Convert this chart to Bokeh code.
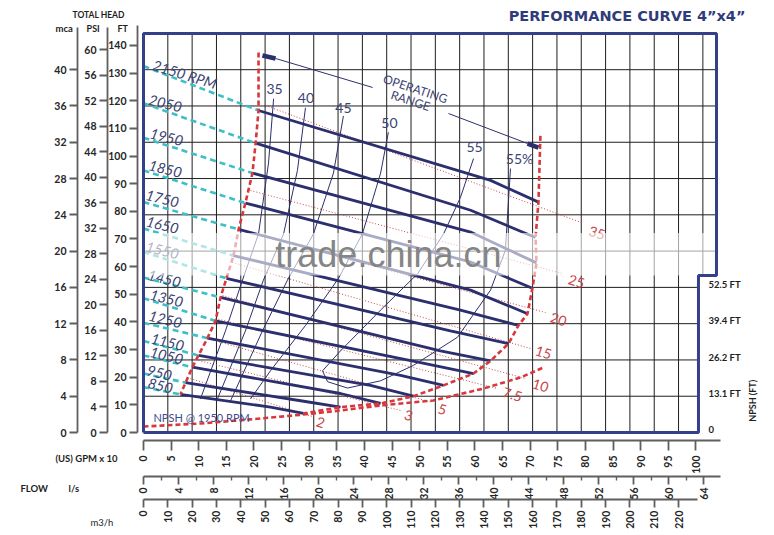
import math
from bokeh.plotting import figure
from bokeh.models import Range1d, LinearAxis, FixedTicker
from bokeh.core.properties import value
from bokeh.embed import file_html
from bokeh.resources import INLINE

# ---------------- data (flow in m3/h, head in m / mca) ----------------
rpm_labels = ["2150 RPM", "2050", "1950", "1850", "1750", "1650", "1550",
              "1450", "1350", "1250", "1150", "1050", "950", "850"]
rpm_label_q = [16.9, 9.0, 9.5, 9.0, 7.8, 7.8, 7.8, 8.6, 9.5, 9.0, 9.9, 9.5, 6.6, 7.0]
rpm_label_h = [39.5, 36.3, 32.6, 29.1, 25.8, 22.9, 20.1, 17.0, 14.8, 12.5, 10.0, 8.5, 6.6, 5.2]
shutoff_head = [40.4, 36.3, 32.5, 28.9, 25.4, 22.5, 19.9, 17.1, 14.8, 12.1, 10.1, 8.5, 6.5, 5.0]
speed_q = [[47.3, 142.7, 162.4], [46.1, 134.5, 161.2], [44.8, 134.5, 161.6],
           [41.9, 134.5, 159.9], [39.1, 134.5, 157.9], [37.0, 130.3, 154.2],
           [34.1, 126.2, 150.1], [31.7, 122.1, 142.7], [29.6, 113.9, 135.7],
           [26.3, 105.7, 123.4], [22.6, 93.3, 111.0], [20.1, 81.0, 97.5],
           [17.3, 64.6, 81.0], [15.2, 52.2, 65.8]]
speed_h = [[35.5, 27.8, 25.4], [31.9, 24.5, 21.5], [28.6, 22.1, 18.7],
           [25.3, 18.8, 15.9], [22.4, 15.7, 13.1], [19.5, 13.5, 11.8],
           [17.0, 11.2, 9.8], [14.9, 9.0, 7.9], [12.3, 7.7, 6.5],
           [10.4, 6.3, 5.2], [8.5, 5.2, 4.0], [7.2, 4.3, 3.2],
           [5.5, 3.5, 2.8], [4.2, 2.8, 2.1]]
range_top_left = [47.3, 41.9]
range_top_right = [163.2, 32.7]

eff_labels = ["35", "40", "45", "50", "55", "55%"]
eff_label_q = [53.9, 66.8, 82.2, 101.1, 136.1, 154.6]
eff_label_h = [37.9, 36.9, 35.8, 34.1, 31.5, 30.2]
eff_q = [[53.5, 51.4, 47.3, 40.7, 33.7, 23.4],
         [66.6, 63.3, 57.6, 49.3, 41.9, 30.4],
         [82.2, 78.1, 69.9, 59.2, 48.9, 35.8],
         [100.7, 97.5, 90.0, 80.2, 66.6, 52.2, 44.0],
         [135.7, 130.3, 123.4, 112.7, 97.5, 81.0, 73.6, 75.7, 83.9, 97.5, 111.0,
          129.1, 142.7, 148.8, 150.9]]
eff_h = [[36.8, 29.7, 21.9, 16.8, 11.2, 3.7],
         [35.8, 28.9, 21.9, 16.8, 11.2, 3.7],
         [34.9, 28.6, 21.9, 16.8, 11.2, 3.5],
         [33.1, 28.6, 21.9, 17.0, 11.8, 6.8, 3.7],
         [30.2, 25.9, 21.9, 17.5, 13.5, 9.0, 6.8, 5.6, 4.9, 5.7, 7.4, 10.5, 15.7,
          20.1, 29.1]]

hp_labels = ["2", "3", "5", "7.5", "10", "15", "20", "25", "35"]
hp_q0 = [19.3, 22.6, 26.3, 29.6, 32.5, 36.6, 39.9, 44.0, 50.2]
hp_h0 = [5.95, 7.94, 10.36, 12.57, 15.10, 18.74, 22.27, 26.68, 36.05]
hp_q1 = [69.5, 105.7, 118.8, 145.6, 157.1, 159.1, 165.3, 172.3, 180.5]
hp_h1 = [1.76, 2.43, 3.31, 4.85, 5.95, 9.26, 13.23, 17.53, 23.1]
hp_label_q = [72.8, 109.0, 122.9, 151.7, 163.2, 164.5, 170.6, 178.0, 186.5]
hp_label_h = [1.10, 1.87, 2.54, 4.19, 5.18, 8.82, 12.46, 16.65, 22.0]

npsh_q = [0, 23.4, 48.1, 65.8, 81.0, 97.5, 119.2, 139.8, 155.0, 164.5]
npsh_h = [0.66, 0.99, 1.54, 1.98, 2.43, 2.98, 3.53, 4.85, 6.06, 7.17]

op_thin_q = [[54.3, 94.2], [125.4, 157.9]]
op_thin_h = [[41.24, 38.04], [35.17, 31.86]]
op_thick_q = [[48.9, 54.3], [157.9, 162.4]]
op_thick_h = [[41.57, 41.24], [31.86, 31.42]]

ft_ticks = list(range(0, 141, 10))
psi_ticks = list(range(0, 61, 4))
mca_ticks = list(range(0, 41, 4))
gpm_ticks = list(range(0, 101, 5))
ls_ticks = list(range(0, 65, 4))
ls_minor = list(range(2, 63, 4))
m3h_ticks = list(range(0, 221, 10))
npsh_ticks = [0, 4, 8, 12, 16]
npsh_tick_labels = ["0", "13.1 FT", "26.2 FT", "39.4 FT", "52.5 FT"]

grid_q = list(range(10, 231, 10))
grid_h = list(range(4, 41, 4))
box_q_max = 235.6
npsh_box_q = 228.2
box_h_max = 44.0
step_h = 17.3

FT_PER_M = 3.28084
PSI_PER_M = 1.42233
GPM10_PER_M3H = 0.440287
LS_PER_M3H = 1 / 3.6

# ---------------- figure: frame covers the whole canvas ----------------
W, H = 772, 533
X0, X1 = -143 / 2.432, (W - 143) / 2.432
Y0, Y1 = (432 - H) / 9.07, 432 / 9.07
AXIS_TOP = 44.87

NAVY = "#2c2f6e"
FRAME = "#35408a"
RED = "#d8373c"
CYAN = "#3dbfc6"
HPRED = "#c9474b"
LBL = "#3b4373"

p = figure(width=W, height=H, x_range=Range1d(X0, X1), y_range=Range1d(Y0, Y1),
           x_axis_location=None, y_axis_location=None, toolbar_location=None,
           output_backend="svg", min_border=0)
p.outline_line_color = None
p.grid.visible = False
p.background_fill_color = "white"
p.border_fill_color = "white"

p.extra_y_ranges = {"ft": Range1d(Y0 * FT_PER_M, Y1 * FT_PER_M),
                    "psi": Range1d(Y0 * PSI_PER_M, Y1 * PSI_PER_M)}
p.extra_x_ranges = {"gpm": Range1d(X0 * GPM10_PER_M3H, X1 * GPM10_PER_M3H),
                    "ls": Range1d(X0 * LS_PER_M3H, X1 * LS_PER_M3H)}


def style_axis(ax, tick_out, standoff, size):
    ax.axis_line_color = "#5f5f5f"
    ax.axis_line_width = 1.8
    ax.major_tick_line_color = "#5f5f5f"
    ax.major_tick_line_width = 1.8
    ax.major_tick_out = tick_out
    ax.major_tick_in = 0
    ax.minor_tick_line_color = None
    ax.major_label_standoff = standoff
    ax.major_label_text_font = "Lato"
    ax.major_label_text_font_style = "bold"
    ax.major_label_text_font_size = size
    ax.major_label_text_color = "#262626"


# left axes (fixed at their own x positions)
ft_axis = LinearAxis(y_range_name="ft", ticker=FixedTicker(ticks=ft_ticks),
                     bounds=(0, AXIS_TOP * FT_PER_M), fixed_location=-2.47)
psi_axis = LinearAxis(y_range_name="psi", ticker=FixedTicker(ticks=psi_ticks),
                      bounds=(0, 44.6 * PSI_PER_M), fixed_location=-14.8)
mca_axis = LinearAxis(ticker=FixedTicker(ticks=mca_ticks), bounds=(0, 44.6),
                      fixed_location=-27.14)
for ax in (ft_axis, psi_axis, mca_axis):
    style_axis(ax, 8, 3, "10.5px")
    p.add_layout(ax, "left")

# bottom axes
gpm_axis = LinearAxis(x_range_name="gpm", ticker=FixedTicker(ticks=gpm_ticks),
                      bounds=(0, 104.46), fixed_location=-0.88)
style_axis(gpm_axis, 10, 5, "10.5px")
ls_axis = LinearAxis(x_range_name="ls", ticker=FixedTicker(ticks=ls_ticks, minor_ticks=ls_minor),
                     bounds=(0, 65.9), fixed_location=-4.85)
style_axis(ls_axis, 8, 3, "10.5px")
ls_axis.minor_tick_line_color = "#5f5f5f"
ls_axis.minor_tick_line_width = 1.4
ls_axis.minor_tick_out = 4
ls_axis.minor_tick_in = 0
m3h_axis = LinearAxis(ticker=FixedTicker(ticks=m3h_ticks), bounds=(0, 228.0),
                      fixed_location=-7.39)
style_axis(m3h_axis, 8, 3, "10.5px")
for ax in (gpm_axis, ls_axis, m3h_axis):
    ax.major_label_orientation = math.pi / 2
    p.add_layout(ax, "below")

# ---------------- grid ----------------
v_y0 = [step_h if q > npsh_box_q else 0 for q in grid_q]
p.segment(x0=grid_q, y0=v_y0, x1=grid_q, y1=[box_h_max] * len(grid_q),
          line_color="#1e1e1e", line_width=1)
h_x1 = [npsh_box_q if h < step_h else box_q_max for h in grid_h]
p.segment(x0=[0] * len(grid_h), y0=grid_h, x1=h_x1, y1=grid_h,
          line_color="#1e1e1e", line_width=1)

# ---------------- power lines ----------------
p.segment(x0=hp_q0, y0=hp_h0, x1=hp_q1, y1=hp_h1, line_color=HPRED,
          line_width=1, line_dash="1 2")
p.text(x=hp_label_q, y=hp_label_h, text=hp_labels, text_color=HPRED,
       text_font=value("Lato"), text_font_size="14px", angle=-0.3,
       text_align="center", text_baseline="middle")

# ---------------- efficiency curves ----------------
p.multi_line(xs=eff_q, ys=eff_h, line_color=NAVY, line_width=1)
p.text(x=eff_label_q, y=eff_label_h, text=eff_labels, text_color=LBL,
       text_font=value("Lato"), text_font_size="14px",
       text_align="center", text_baseline="middle")

# ---------------- speed curves ----------------
start_q = [q[0] for q in speed_q]
start_h = [h[0] for h in speed_h]
p.segment(x0=[0] * len(shutoff_head), y0=shutoff_head, x1=start_q, y1=start_h,
          line_color=CYAN, line_width=2.6, line_dash="6 4")
p.multi_line(xs=speed_q, ys=speed_h, line_color=NAVY, line_width=2.8)

# operating range boundaries and NPSH curve
left_q = [range_top_left[0]] + start_q
left_h = [range_top_left[1]] + start_h
right_q = [range_top_right[0]] + [q[-1] for q in speed_q]
right_h = [range_top_right[1]] + [h[-1] for h in speed_h]
p.line(left_q, left_h, line_color=RED, line_width=2.6, line_dash="5 3")
p.line(right_q, right_h, line_color=RED, line_width=2.6, line_dash="5 3")
p.line(npsh_q, npsh_h, line_color=RED, line_width=2.6, line_dash="5 3")

p.multi_line(xs=op_thin_q, ys=op_thin_h, line_color=NAVY, line_width=1)
p.multi_line(xs=op_thick_q, ys=op_thick_h, line_color=NAVY, line_width=4.5)
p.text(x=[111.8, 109.8], y=[37.9, 36.6], text=["OPERATING", "RANGE"],
       text_color=LBL, text_font=value("Lato"), text_font_size="12px",
       angle=-0.32, text_align="center", text_baseline="middle")

rpm_angles = [-0.3] + [-0.24] * (len(rpm_labels) - 1)
p.text(x=rpm_label_q, y=rpm_label_h, text=rpm_labels, angle=rpm_angles,
       text_color=LBL, text_font=value("Lato"), text_font_style="italic",
       text_font_size="14.5px", text_align="center", text_baseline="middle")

p.text(x=[4.1], y=[1.65], text=["NPSH @ 1950 RPM"], text_color="#3d4c8c",
       text_font=value("Lato"), text_font_size="11px",
       text_align="left", text_baseline="middle")

# watermark band as in the picture
p.quad(left=[0], right=[box_q_max], bottom=[step_h], top=[22.0],
       fill_color="white", fill_alpha=0.6, line_color=None)
p.text(x=[100.7], y=[19.6], text=["trade.china.cn"], text_color="#858585",
       text_font=value("Liberation Sans"), text_font_size="36px",
       text_align="center", text_baseline="middle")

# chart frame with NPSH step
p.line([0, 0, box_q_max, box_q_max, npsh_box_q, npsh_box_q, 0],
       [0, box_h_max, box_h_max, step_h, step_h, 0, 0],
       line_color=FRAME, line_width=3)

# ---------------- texts around the chart ----------------
def txt(x, y, text, size="9.5px", align="center", bold=True, color="#1e1e1e",
        angle=0.0, font="Lato", baseline="middle"):
    p.text(x=[x], y=[y], text=[text], text_font=value(font), text_font_size=size,
           text_font_style="bold" if bold else "normal", text_color=color,
           text_align=align, text_baseline=baseline, angle=angle)


txt(249.6, 45.95, "PERFORMANCE CURVE  4”x4”", size="14.5px", align="right",
    color="#2f3b7a", font="DejaVu Sans", baseline="alphabetic")
txt(-29.2, 46.0, "TOTAL HEAD", size="8.5px", align="left", baseline="alphabetic")
txt(-36.2, 44.55, "mca", size="9.5px", align="left", baseline="alphabetic")
txt(-23.4, 44.55, "PSI", size="9px", align="left", baseline="alphabetic")
txt(-10.7, 44.55, "FT", size="9px", align="left", baseline="alphabetic")
txt(-36.2, -2.87, "(US) GPM  x 10", size="9.5px", align="left")
txt(-50.6, -6.17, "FLOW", size="9.5px", align="left")
txt(-30.8, -6.17, "l/s", size="9.5px", align="left")
txt(-21.8, -9.92, "m3/h", size="9.5px", align="left", bold=False)
for t, lbl in zip(npsh_ticks, npsh_tick_labels):
    txt(232.3, t + 0.3, lbl, size="9.5px", align="left")
txt(250.4, 3.5, "NPSH (FT)", size="9px", angle=math.pi / 2)

open("out.html", "w").write(file_html(p, INLINE))
